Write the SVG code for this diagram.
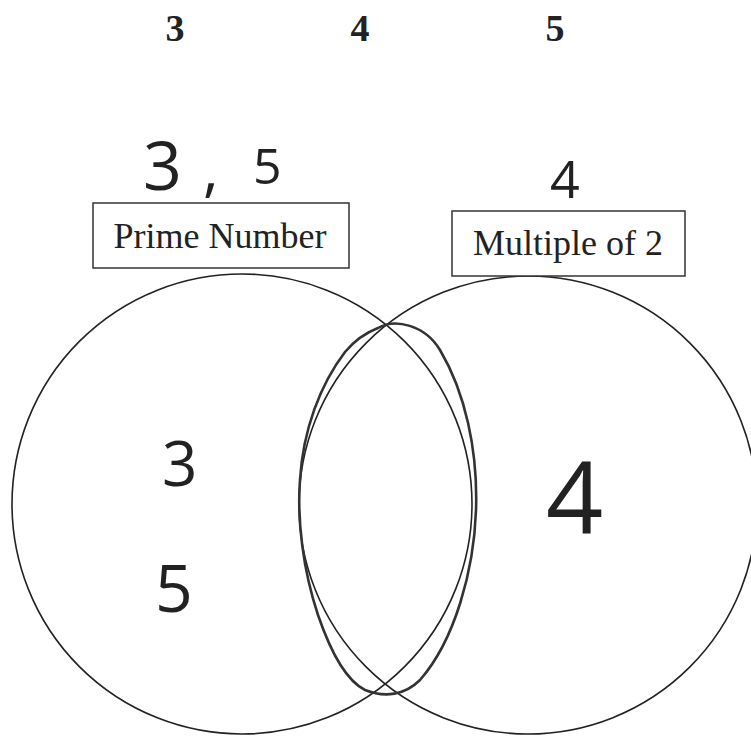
<svg xmlns="http://www.w3.org/2000/svg" width="751" height="740" viewBox="0 0 751 740">
<style>
.num{font-family:"Liberation Serif",serif;font-weight:bold;font-size:38px;fill:#222}
.lbl{font-family:"Liberation Serif",serif;font-size:36px;fill:#222}
.hand{font-family:"Open Sans","DejaVu Sans",sans-serif;font-weight:400;fill:#222}
.box{fill:#fff;stroke:#333;stroke-width:1.5}
.set{fill:none;stroke:#222;stroke-width:1.6}
</style>
<rect width="751" height="740" fill="#fff"/>
<g id="top-numbers">
<text class="num" x="175" y="41" text-anchor="middle">3</text>
<text class="num" x="360" y="41" text-anchor="middle">4</text>
<text class="num" x="555" y="41" text-anchor="middle">5</text>
</g>
<g id="circles">
<circle id="set-prime" class="set" cx="242" cy="504" r="230"/>
<circle id="set-multiple" class="set" cx="528" cy="505" r="229"/>
</g>
<g id="intersection-loop">
<path fill="none" stroke="#333" stroke-width="2.6" d="M378,328 C395,318 425,325 440,350 C465,392 478,450 476,510 C474,570 455,640 420,680 C405,695 385,698 365,690 C345,680 330,650 318,615 C303,570 297,520 300,480 C303,430 320,385 345,352 C355,340 365,333 378,328 Z"/>
</g>
<g id="box-prime">
<rect class="box" x="93" y="203" width="256" height="65"/>
<text class="lbl" x="220" y="248" text-anchor="middle">Prime Number</text>
</g>
<g id="box-multiple">
<rect class="box" x="452" y="211" width="233" height="65"/>
<text class="lbl" x="568" y="255" text-anchor="middle">Multiple of 2</text>
</g>
<g id="handwriting">
<text class="hand" x="143" y="190" font-size="68">3</text>
<text class="hand" x="203" y="190" font-size="60">,</text>
<text class="hand" x="253" y="184" font-size="50">5</text>
<text class="hand" x="550" y="198" font-size="52">4</text>
<text class="hand" x="162" y="486" font-size="62">3</text>
<text class="hand" x="155" y="612" font-size="66">5</text>
<text class="hand" x="546" y="534" font-size="100">4</text>
</g>
</svg>
